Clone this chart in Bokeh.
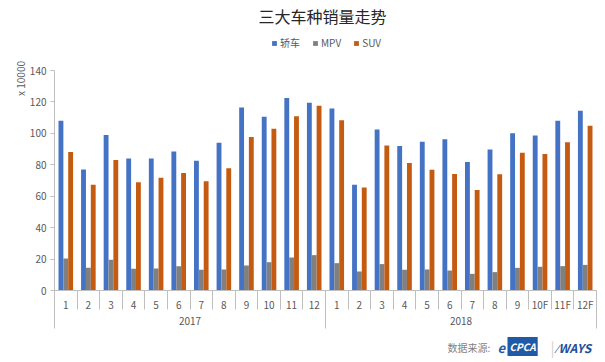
import numpy as np
from bokeh.plotting import figure
from bokeh.models import Range1d, LinearAxis, FixedTicker, Label, Legend, LegendItem
from bokeh.embed import file_html
from bokeh.resources import INLINE

# ---- data ----
months = ["1", "2", "3", "4", "5", "6", "7", "8", "9", "10", "11", "12",
          "1", "2", "3", "4", "5", "6", "7", "8", "9", "10F", "11F", "12F"]
years = ["2017", "2018"]
series_names = ["轿车", "MPV", "SUV"]
sedan = [108, 77, 99, 84, 84, 88.5, 82.5, 94, 116.5, 110.5, 122.5, 119.5,
         115.8, 67.3, 102.5, 92, 94.6, 96.3, 81.7, 89.7, 100, 98.6, 108, 114.4]
mpv = [20.4, 14.4, 19.5, 13.8, 14, 15.5, 13.2, 13.4, 15.9, 18, 21, 22.5,
       17.4, 12.1, 16.8, 13.2, 13.4, 12.7, 10.6, 11.7, 14.4, 15.1, 15.5, 16.3]
suv = [88.2, 67.3, 83, 68.9, 71.8, 74.7, 69.6, 77.8, 97.7, 102.9, 110.9, 117.5,
       108.4, 65.5, 92.2, 81.2, 76.8, 74.2, 63.9, 74, 87.6, 86.8, 94.4, 104.8]
y_ticks = [0, 20, 40, 60, 80, 100, 120, 140]
y_max = 140

FONT = "Noto Sans CJK SC"
colors = ["#4472C4", "#808080", "#C55A11"]
AXIS_COLOR = "#BFBFBF"
TEXT_COLOR = "#595959"

W, H = 605, 362
# plot area in canvas pixels
PL, PR, PT, PB = 54, 596, 70, 290
n = len(months)
ux = (PR - PL) / n          # px per category
uy = (PB - PT) / y_max      # px per unit


def dx(px):
    return -0.5 + (px - PL) / ux


def dy(py):
    return (PB - py) / uy


idx = np.arange(n)

p = figure(width=W, height=H,
           x_range=Range1d(dx(0), dx(W)), y_range=Range1d(dy(H), dy(0)),
           output_backend="svg", toolbar_location=None,
           x_axis_type=None, y_axis_type=None,
           min_border=0, min_border_left=0, min_border_right=0,
           min_border_top=0, min_border_bottom=0)
p.outline_line_color = None
p.background_fill_color = "white"
p.border_fill_color = "white"

bw = 0.215
r1 = p.vbar(x=idx - bw, top=sedan, width=bw, color=colors[0], line_color=None)
r2 = p.vbar(x=idx, top=mpv, width=bw, color=colors[1], line_color=None)
r3 = p.vbar(x=idx + bw, top=suv, width=bw, color=colors[2], line_color=None)

# y axis
yaxis = LinearAxis(ticker=FixedTicker(ticks=y_ticks, minor_ticks=[]),
                   fixed_location=-0.5, bounds=(0, y_max),
                   major_tick_out=4, major_tick_in=0, minor_tick_out=0, minor_tick_in=0,
                   axis_line_color=AXIS_COLOR, major_tick_line_color=AXIS_COLOR,
                   major_label_text_font=FONT, major_label_text_font_size="10px",
                   major_label_text_color=TEXT_COLOR, major_label_standoff=4)
p.add_layout(yaxis, "left")

# x axis: months with separators
xaxis = LinearAxis(ticker=FixedTicker(ticks=list(idx), minor_ticks=[i - 0.5 for i in range(n + 1)]),
                   fixed_location=0, bounds=(-0.5, n - 0.5),
                   major_tick_out=0, major_tick_in=0, minor_tick_out=19, minor_tick_in=0,
                   axis_line_color=AXIS_COLOR, minor_tick_line_color=AXIS_COLOR,
                   major_label_overrides={int(i): m for i, m in enumerate(months)},
                   major_label_text_font=FONT, major_label_text_font_size="10px",
                   major_label_text_color=TEXT_COLOR, major_label_standoff=-13)
p.add_layout(xaxis, "below")

# x axis: years
xaxis2 = LinearAxis(ticker=FixedTicker(ticks=[5.5, 17.5], minor_ticks=[-0.5, 11.5, 23.5]),
                    fixed_location=dy(309), bounds=(-0.5, n - 0.5),
                    major_tick_out=0, major_tick_in=0, minor_tick_out=19, minor_tick_in=19,
                    axis_line_color=None, minor_tick_line_color=AXIS_COLOR,
                    major_label_overrides={5.5: years[0], 17.5: years[1]},
                    major_label_text_font=FONT, major_label_text_font_size="10px",
                    major_label_text_color=TEXT_COLOR, major_label_standoff=-12)
p.add_layout(xaxis2, "below")

# legend
legend = Legend(items=[LegendItem(label=series_names[0], renderers=[r1]),
                       LegendItem(label=series_names[1], renderers=[r2]),
                       LegendItem(label=series_names[2], renderers=[r3])],
                orientation="horizontal", location=(271, H - 50),
                glyph_width=6, glyph_height=6, label_height=12, label_width=0,
                label_standoff=3, spacing=12, padding=0, margin=0,
                border_line_color=None, background_fill_alpha=0,
                label_text_font=FONT, label_text_font_size="10px", label_text_color=TEXT_COLOR)
p.add_layout(legend, "center")

# title and notes
p.add_layout(Label(x=dx(322), y=dy(15), text="三大车种销量走势", text_align="center", text_baseline="middle",
                   text_font=FONT, text_font_size="16px", text_color="#262626"))
p.add_layout(Label(x=dx(20), y=dy(78), text="x 10000", angle=np.pi / 2, text_align="center",
                   text_baseline="middle", text_font=FONT, text_font_size="10px", text_color=TEXT_COLOR))
p.add_layout(Label(x=dx(447), y=dy(347), text="数据来源:", text_align="left", text_baseline="middle",
                   text_font=FONT, text_font_size="10px", text_color="#7F7F7F"))
p.add_layout(Label(x=dx(497), y=dy(347), text="e", text_align="left", text_baseline="middle",
                   text_font=FONT, text_font_size="13px", text_font_style="bold italic", text_color="#1F5AA6"))
p.add_layout(Label(x=dx(507), y=dy(346), text="CPCA", text_align="left", text_baseline="middle",
                   text_font=FONT, text_font_size="10px", text_font_style="bold italic", text_color="white",
                   background_fill_color="#1F5AA6", padding=2))
p.add_layout(Label(x=dx(552), y=dy(347), text="|", text_align="center", text_baseline="middle",
                   text_font=FONT, text_font_size="15px", text_color="#D0D0D0"))
p.add_layout(Label(x=dx(556), y=dy(347), text="⁄WAYS", text_align="left", text_baseline="middle",
                   text_font=FONT, text_font_size="12px", text_font_style="bold italic", text_color="#1F4E9A"))

open("out.html", "w").write(file_html(p, INLINE))
